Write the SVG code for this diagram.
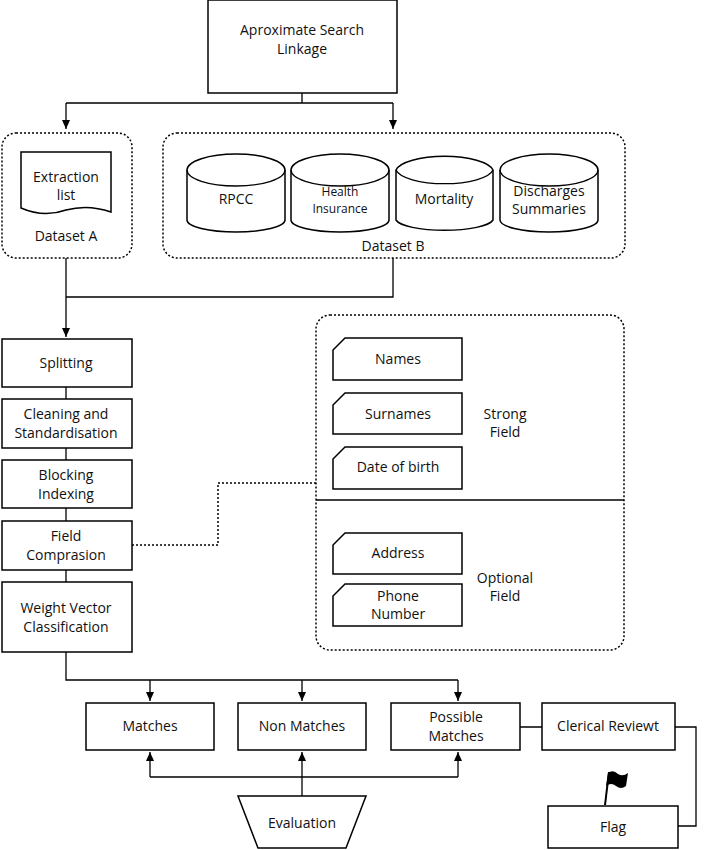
<svg xmlns="http://www.w3.org/2000/svg" width="704" height="850" viewBox="0 0 704 850">
<style>
.b{fill:#fff;stroke:#000;stroke-width:1.5}
.d{fill:none;stroke:#000;stroke-width:1.5;stroke-dasharray:2 2}
.l{fill:none;stroke:#000;stroke-width:1.3}
text{font-family:"Open Sans","Liberation Sans",sans-serif;font-size:14px;text-anchor:middle;fill:#111}
.s{font-size:12px}
</style>
<defs><marker id="a" markerWidth="10" markerHeight="10" refX="9" refY="5" orient="auto" markerUnits="userSpaceOnUse"><path d="M0,1 L9,5 L0,9 Z" fill="#000"/></marker></defs>
<g id="connectors">
<path class="l" d="M302,93 V103 M66,103 H393"/>
<path class="l" d="M66,103 V129" marker-end="url(#a)"/>
<path class="l" d="M393,103 V129" marker-end="url(#a)"/>
<path class="l" d="M66,258 V297 M393,258 V297 H66"/>
<path class="l" d="M66,297 V337" marker-end="url(#a)"/>
<path class="l" d="M66,387 V399 M66,448 V460 M66,508 V521 M66,570 V582 M66,652 V680 H458"/>
<path class="l" d="M150,680 V701" marker-end="url(#a)"/>
<path class="l" d="M302,680 V701" marker-end="url(#a)"/>
<path class="l" d="M458,680 V701" marker-end="url(#a)"/>
<path class="l" d="M150,777 H458"/>
<path class="l" d="M150,777 V752" marker-end="url(#a)"/>
<path class="l" d="M458,777 V752" marker-end="url(#a)"/>
<path class="l" d="M302,796 V752" marker-end="url(#a)"/>
<path class="l" d="M520,727 H542 M675,727 H696 V826 H678"/>
<path class="d" d="M132,545 H218 V483 H316"/>
</g>
<g id="top"><rect class="b" x="208" y="0" width="189" height="93"/><text x="302" y="35">Aproximate Search</text><text x="302" y="54">Linkage</text></g>
<g id="datasetA"><rect class="d" x="2" y="133" width="130" height="125" rx="14"/>
<path class="b" d="M21,152 H111 V212 Q88,204 66,210 Q44,218 21,208 Z"/>
<text x="66" y="182">Extraction</text><text x="66" y="200">list</text><text x="66" y="241">Dataset A</text></g>
<g id="datasetB"><rect class="d" x="163" y="133" width="462" height="125" rx="14"/><text x="393" y="251">Dataset B</text>
<path class="b" d="M187,170 A49,16 0 0 1 285,170 V220 A49,12 0 0 1 187,220 Z"/><path class="l" d="M187,170 A49,16 0 0 0 285,170"/>
<path class="b" d="M291,170 A49,16 0 0 1 389,170 V220 A49,12 0 0 1 291,220 Z"/><path class="l" d="M291,170 A49,16 0 0 0 389,170"/>
<path class="b" d="M396,170 A49,16 0 0 1 493,170 V220 A49,12 0 0 1 396,220 Z"/><path class="l" d="M396,170 A49,16 0 0 0 493,170"/>
<path class="b" d="M500,170 A49,16 0 0 1 598,170 V220 A49,12 0 0 1 500,220 Z"/><path class="l" d="M500,170 A49,16 0 0 0 598,170"/>
<text x="236" y="204">RPCC</text><text class="s" x="340" y="196">Health</text><text class="s" x="340" y="213">Insurance</text>
<text x="444" y="204">Mortality</text><text x="549" y="196">Discharges</text><text x="549" y="214">Summaries</text></g>
<g id="splitting"><rect class="b" x="2" y="339" width="130" height="48"/><text x="66" y="368">Splitting</text></g>
<g id="cleaning"><rect class="b" x="2" y="399" width="130" height="49"/><text x="66" y="419">Cleaning and</text><text x="66" y="438">Standardisation</text></g>
<g id="blocking"><rect class="b" x="2" y="460" width="130" height="48"/><text x="66" y="480">Blocking</text><text x="66" y="499">Indexing</text></g>
<g id="field"><rect class="b" x="2" y="521" width="130" height="49"/><text x="66" y="541">Field</text><text x="66" y="560">Comprasion</text></g>
<g id="weight"><rect class="b" x="2" y="582" width="130" height="70"/><text x="66" y="613">Weight  Vector</text><text x="66" y="632">Classification</text></g>
<g id="fields"><rect class="d" x="316" y="315" width="308" height="335" rx="14"/><path class="l" d="M316,500 H624"/>
<path class="b" d="M345,338 H462 V380 H333 V350 Z"/><text x="398" y="364">Names</text>
<path class="b" d="M345,393 H462 V434 H333 V405 Z"/><text x="398" y="419">Surnames</text>
<path class="b" d="M345,447 H462 V489 H333 V459 Z"/><text x="398" y="472">Date of birth</text>
<path class="b" d="M345,533 H462 V574 H333 V545 Z"/><text x="398" y="558">Address</text>
<path class="b" d="M345,584 H462 V626 H333 V596 Z"/><text x="398" y="601">Phone</text><text x="398" y="619">Number</text>
<text x="505" y="419">Strong</text><text x="505" y="437">Field</text>
<text x="505" y="583">Optional</text><text x="505" y="601">Field</text></g>
<g id="matches"><rect class="b" x="86" y="703" width="128" height="47"/><text x="150" y="731">Matches</text></g>
<g id="nonmatches"><rect class="b" x="238" y="703" width="128" height="47"/><text x="302" y="731">Non Matches</text></g>
<g id="possible"><rect class="b" x="391" y="703" width="129" height="47"/><text x="456" y="722">Possible</text><text x="456" y="741">Matches</text></g>
<g id="clerical"><rect class="b" x="542" y="703" width="133" height="47"/><text x="608" y="731">Clerical Reviewt</text></g>
<g id="flag"><rect class="b" x="548" y="806" width="130" height="42"/><text x="613" y="832">Flag</text>
<path d="M604,805 L608,772 L610,772 L606,805 Z" fill="#000"/><path d="M608,773 Q613,769 618,774 Q623,777 628,773 L626,786 Q621,790 616,786 Q611,782 606,786 Z" fill="#000"/></g>
<g id="evaluation"><path class="b" d="M238,796 H366 L346,848 H258 Z"/><text x="302" y="828">Evaluation</text></g>
</svg>
